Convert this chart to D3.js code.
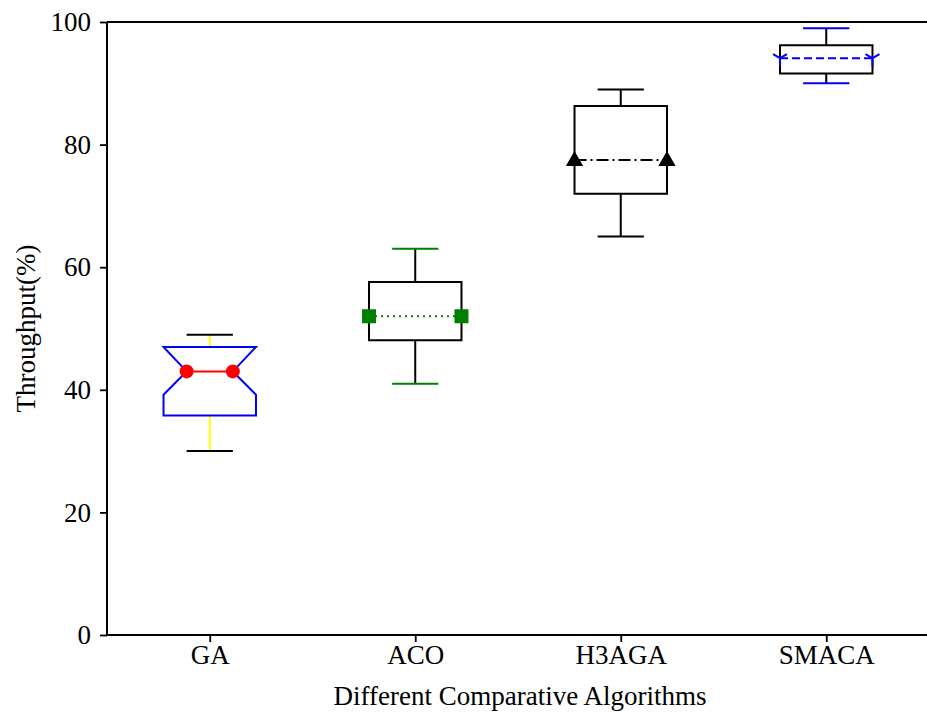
<!DOCTYPE html>
<html>
<head>
<meta charset="utf-8">
<script src="https://cdn.jsdelivr.net/npm/d3@7"></script>
<style>
  body { margin: 0; background: #fff; }
  svg { display: block; }
  text { font-family: "Liberation Serif", "Times New Roman", serif; }
</style>
</head>
<body>
<div id="chart"></div>
<script>
// box stats
var categories = ["GA", "ACO", "H3AGA", "SMACA"];
var whiskerLo = [30, 41, 65, 90];
var q1 = [35.8, 48.1, 72, 91.6];
var median = [43, 52, 77.5, 94.1];
var q3 = [47, 57.6, 86.3, 96.2];
var whiskerHi = [49, 63, 89, 99];
var notchLo = [39.2, null, null, null];
var notchHi = [47, null, null, null];
var yTicks = [0, 20, 40, 60, 80, 100];

var styles = [
  { box: "blue", whisker: "yellow", cap: "black", med: "red", dash: null, marker: "circle", inset: true },
  { box: "black", whisker: "black", cap: "green", med: "green", dash: "2,4", marker: "square", inset: false },
  { box: "black", whisker: "black", cap: "black", med: "black", dash: "12,4,2,4", marker: "triangle", inset: false },
  { box: "black", whisker: "black", cap: "blue", med: "blue", dash: "8,4", marker: "tri", inset: false }
];

var W = 927, H = 713;
var mLeft = 107, mTop = 22, mBottom = 635, mRight = 929;
var fontSize = 27;

var svg = d3.select("#chart").append("svg")
  .attr("width", W)
  .attr("height", H);

var x = d3.scaleLinear().domain([0.5, 4.5]).range([mLeft, mRight]);
var y = d3.scaleLinear().domain([0, 100]).range([mBottom, mTop]);
var boxW = 0.45;

var data = categories.map(function(c, i) {
  return { name: c, pos: i + 1, lo: whiskerLo[i], q1: q1[i], med: median[i], q3: q3[i],
           hi: whiskerHi[i], nlo: notchLo[i], nhi: notchHi[i], s: styles[i] };
});

var g = svg.append("g");

data.forEach(function(d) {
  var cx = x(d.pos);
  var xl = x(d.pos - boxW / 2), xr = x(d.pos + boxW / 2);
  var cl = x(d.pos - boxW / 4), cr = x(d.pos + boxW / 4);
  var b = g.append("g");

  // whiskers
  b.append("line").attr("x1", cx).attr("x2", cx).attr("y1", y(d.q1)).attr("y2", y(d.lo))
    .attr("stroke", d.s.whisker).attr("stroke-width", 2);
  b.append("line").attr("x1", cx).attr("x2", cx).attr("y1", y(d.q3)).attr("y2", y(d.hi))
    .attr("stroke", d.s.whisker).attr("stroke-width", 2);
  // caps
  [d.lo, d.hi].forEach(function(v) {
    b.append("line").attr("x1", cl).attr("x2", cr).attr("y1", y(v)).attr("y2", y(v))
      .attr("stroke", d.s.cap).attr("stroke-width", 2);
  });

  // box (notched for GA)
  var pts;
  if (d.nlo != null) {
    pts = [[xl, y(d.q1)], [xr, y(d.q1)], [xr, y(d.nlo)], [cr, y(d.med)], [xr, y(d.nhi)],
           [xr, y(d.q3)], [xl, y(d.q3)], [xl, y(d.nhi)], [cl, y(d.med)], [xl, y(d.nlo)]];
  } else {
    pts = [[xl, y(d.q1)], [xr, y(d.q1)], [xr, y(d.q3)], [xl, y(d.q3)]];
  }
  b.append("path").attr("d", d3.line()(pts) + "Z")
    .attr("fill", "none").attr("stroke", d.s.box).attr("stroke-width", 2)
    .attr("stroke-linejoin", "miter");

  // median
  var ml = d.s.inset ? cl : xl, mr = d.s.inset ? cr : xr;
  b.append("line").attr("x1", ml).attr("x2", mr).attr("y1", y(d.med)).attr("y2", y(d.med))
    .attr("stroke", d.s.med).attr("stroke-width", 2)
    .attr("stroke-dasharray", d.s.dash);

  [ml, mr].forEach(function(mx) {
    var my = y(d.med);
    if (d.s.marker === "circle") {
      b.append("circle").attr("cx", mx).attr("cy", my).attr("r", 7).attr("fill", d.s.med);
    } else if (d.s.marker === "square") {
      b.append("rect").attr("x", mx - 7).attr("y", my - 7).attr("width", 14).attr("height", 14)
        .attr("fill", d.s.med);
    } else if (d.s.marker === "triangle") {
      b.append("path").attr("d", d3.symbol().type(d3.symbolTriangle).size(130)())
        .attr("transform", "translate(" + mx + "," + (my + 1) + ")")
        .attr("fill", d.s.med);
    } else if (d.s.marker === "tri") {
      // tri_down
      b.append("path")
        .attr("d", "M0,0L0,8M0,0L-7,-4M0,0L7,-4")
        .attr("transform", "translate(" + mx + "," + my + ")")
        .attr("stroke", d.s.med).attr("stroke-width", 2).attr("fill", "none");
    }
  });
});

// axes
var yAxis = d3.axisLeft(y).tickValues(yTicks).tickSize(7).tickPadding(9);
var xAxis = d3.axisBottom(x).tickValues([1, 2, 3, 4])
  .tickFormat(function(d) { return categories[d - 1]; }).tickSize(7).tickPadding(3);

var ya = svg.append("g").attr("transform", "translate(" + mLeft + ",0)").call(yAxis);
var xa = svg.append("g").attr("transform", "translate(0," + mBottom + ")").call(xAxis);
[ya, xa].forEach(function(a) {
  a.attr("font-size", fontSize).attr("font-family", "'Liberation Serif', serif");
  a.select(".domain").remove();
  a.selectAll(".tick line").attr("stroke", "#000").attr("stroke-width", 1.8);
  a.selectAll(".tick text").attr("fill", "#000");
});

// spines
svg.append("line").attr("x1", mLeft).attr("x2", mLeft).attr("y1", mTop).attr("y2", mBottom)
  .attr("stroke", "#000").attr("stroke-width", 2);
svg.append("line").attr("x1", mLeft).attr("x2", mRight).attr("y1", mBottom).attr("y2", mBottom)
  .attr("stroke", "#000").attr("stroke-width", 2);
svg.append("line").attr("x1", mLeft).attr("x2", mRight).attr("y1", mTop).attr("y2", mTop)
  .attr("stroke", "#000").attr("stroke-width", 2);

svg.append("text")
  .attr("x", 520).attr("y", 705)
  .attr("text-anchor", "middle").attr("font-size", fontSize)
  .text("Different Comparative Algorithms");

svg.append("text")
  .attr("transform", "translate(35," + ((mTop + mBottom) / 2) + ") rotate(-90)")
  .attr("text-anchor", "middle").attr("font-size", fontSize)
  .text("Throughput(%)");
</script>
</body>
</html>
